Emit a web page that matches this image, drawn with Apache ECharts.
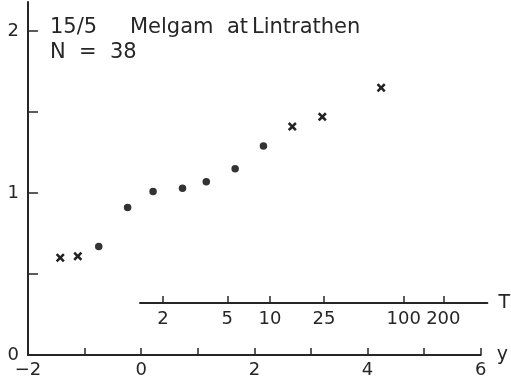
<!DOCTYPE html>
<html>
<head>
<meta charset="utf-8">
<script src="https://cdn.jsdelivr.net/npm/echarts@6/dist/echarts.min.js"></script>
<style>html,body{margin:0;padding:0;background:#fff;}#c{width:511px;height:380px;}</style>
</head>
<body>
<div id="c"></div>
<script>
// Reduced variate (y) and discharge values
var crossX = [-1.43, -1.12, 2.67, 3.20, 4.24];
var crossY = [0.60, 0.61, 1.41, 1.47, 1.65];
var dotX = [-0.75, -0.24, 0.21, 0.73, 1.15, 1.66, 2.16];
var dotY = [0.67, 0.91, 1.01, 1.03, 1.07, 1.15, 1.29];
// Return period tick labels
var returnPeriods = [2, 5, 10, 25, 100, 200];
var xTickLabels = [-2, 0, 2, 4, 6];
var yTickLabels = [0, 1, 2];
var yTicks = [0, 0.5, 1, 1.5, 2];

function gumbel(T) { return -Math.log(-Math.log(1 - 1 / T)); }
var tPositions = returnPeriods.map(gumbel);

var ink = '#262626';
var font = 'DejaVu Sans';
var crossPath = 'path://M0,2L2,0L5,3L8,0L10,2L7,5L10,8L8,10L5,7L2,10L0,8L3,5Z';

function pairs(xs, ys) { return xs.map(function (x, i) { return [x, ys[i]]; }); }

var chart = echarts.init(document.getElementById('c'), null, {renderer: 'canvas'});
chart.setOption({
  backgroundColor: '#fff',
  animation: false,
  grid: [
    {left: 28, right: 27, top: 2, bottom: 25},
    {left: 140, right: 23, top: 293, bottom: 77}
  ],
  xAxis: [
    {
      gridIndex: 0, type: 'value', min: -2, max: 6, interval: 1,
      name: 'y', nameLocation: 'end', nameGap: 16,
      nameTextStyle: {fontFamily: font, fontSize: 19, color: ink, padding: [6, 0, 0, 0]},
      axisLine: {onZero: false, lineStyle: {color: ink, width: 2}},
      axisTick: {inside: true, length: 7, lineStyle: {color: ink, width: 1.5}},
      axisLabel: {
        fontFamily: font, fontSize: 18, color: ink, margin: 6,
        customValues: xTickLabels,
        formatter: function (v) { return v < 0 ? '\u2212' + Math.abs(v) : String(v); }
      },
      splitLine: {show: false}
    },
    {
      gridIndex: 1, type: 'value',
      min: -2 + (140 - 28) / 57, max: -2 + (488 - 28) / 57,
      name: 'T', nameLocation: 'end', nameGap: 11,
      nameTextStyle: {fontFamily: font, fontSize: 19, color: ink, padding: [0, 0, 6, 0]},
      axisLine: {onZero: false, lineStyle: {color: ink, width: 2}},
      axisTick: {inside: true, length: 7, customValues: tPositions, lineStyle: {color: ink, width: 1.5}},
      axisLabel: {
        fontFamily: font, fontSize: 18, color: ink, margin: 7,
        customValues: tPositions,
        formatter: function (v) {
          var best = 0, d = 1e9;
          tPositions.forEach(function (p, i) { if (Math.abs(p - v) < d) { d = Math.abs(p - v); best = i; } });
          return String(returnPeriods[best]);
        }
      },
      splitLine: {show: false}
    }
  ],
  yAxis: [
    {
      gridIndex: 0, type: 'value', min: 0, max: (355 - 2) / 162,
      axisLine: {show: true, onZero: false, lineStyle: {color: ink, width: 2}},
      axisTick: {show: true, inside: true, length: 10, customValues: yTicks, lineStyle: {color: ink, width: 1.5}},
      axisLabel: {fontFamily: font, fontSize: 18, color: ink, margin: 9, customValues: yTickLabels},
      splitLine: {show: false}
    },
    {gridIndex: 1, type: 'value', show: false}
  ],
  series: [
    {
      type: 'scatter', xAxisIndex: 0, yAxisIndex: 0,
      data: pairs(dotX, dotY), symbol: 'circle', symbolSize: 7.5,
      itemStyle: {color: '#333', opacity: 1}
    },
    {
      type: 'scatter', xAxisIndex: 0, yAxisIndex: 0,
      data: pairs(crossX, crossY), symbol: crossPath, symbolSize: 9,
      itemStyle: {color: '#222', opacity: 1}
    }
  ],
  graphic: [
    {type: 'text', left: 50, top: 17, style: {text: '15/5', font: '21px "DejaVu Sans"', fill: ink}},
    {type: 'text', left: 130, top: 17, style: {text: 'Melgam', font: '21px "DejaVu Sans"', fill: ink}},
    {type: 'text', left: 227, top: 17, style: {text: 'at', font: '21px "DejaVu Sans"', fill: ink}},
    {type: 'text', left: 252, top: 17, style: {text: 'Lintrathen', font: '21px "DejaVu Sans"', fill: ink}},
    {type: 'text', left: 50, top: 42, style: {text: 'N  =  38', font: '21px "DejaVu Sans"', fill: ink}}
  ]
});
</script>
</body>
</html>
